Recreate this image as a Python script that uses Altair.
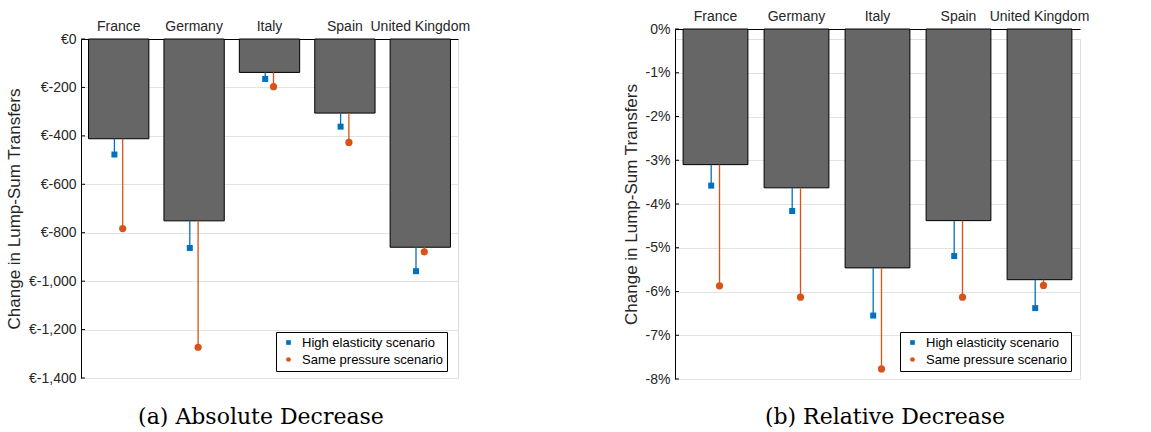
import altair as alt
import pandas as pd

countries = ["France", "Germany", "Italy", "Spain", "United Kingdom"]
scenarios = ["High elasticity scenario", "Same pressure scenario"]

abs_bar = [-412, -751, -138, -306, -860]
abs_high = [-477, -863, -165, -362, -959]
abs_same = [-783, -1273, -197, -427, -879]

rel_bar = [-3.10, -3.63, -5.46, -4.38, -5.73]
rel_high = [-3.58, -4.16, -6.55, -5.19, -6.38]
rel_same = [-5.87, -6.13, -7.77, -6.13, -5.86]

abs_ticks = [0, -200, -400, -600, -800, -1000, -1200, -1400]
rel_ticks = [0, -1, -2, -3, -4, -5, -6, -7, -8]

captions = ["(a) Absolute Decrease", "(b) Relative Decrease"]
y_title = "Change in Lump-Sum Transfers"

BLUE = "#0072BD"
ORANGE = "#D95319"
BAR = "#666666"
TXT = "#262626"


def panel(bar, high, same, ticks, label_expr, w, h, shift, caption, cap_x,
          cap_y, leg_x, leg_y, top_pad):
    df = pd.DataFrame({"country": countries, "bar": bar})
    hi = pd.DataFrame({"country": countries, "scenario": scenarios[0],
                       "value": high, "bar": bar})
    sp = pd.DataFrame({"country": countries, "scenario": scenarios[1],
                       "value": same, "bar": bar})
    tk = pd.DataFrame({"t": ticks})

    xenc = alt.X("country:N", sort=countries, title=None,
                 scale=alt.Scale(paddingInner=0.2, paddingOuter=0.1),
                 axis=alt.Axis(orient="top", labelAngle=0, ticks=False,
                               labelPadding=6, domainColor="black",
                               domainWidth=1, labelFontSize=14, offset=shift,
                               labelColor=TXT, labelOverlap=False,
                               labelFont="Liberation Sans"))
    yscale = alt.Scale(domain=[min(ticks), 0], nice=False,
                       range=[h, -shift])
    yax = alt.Axis(values=ticks, labelExpr=label_expr, grid=True,
                   gridColor="#e3e3e3", gridWidth=1, ticks=False,
                   domainColor="black", domainWidth=1,
                   title=y_title, titleFontSize=17, titleFontWeight="normal",
                   titleColor=TXT, titleFont="Liberation Sans",
                   labelFontSize=14, labelColor=TXT, labelPadding=5,
                   titlePadding=5, labelFont="Liberation Sans")

    leg = alt.Legend(title=None, orient="none", legendX=leg_x, legendY=leg_y,
                     fillColor="white", strokeColor="black", padding=4,
                     labelFontSize=13, labelFont="Liberation Sans",
                     labelColor="black", symbolSize=22, rowPadding=3,
                     labelOffset=7, symbolOffset=2)
    color = alt.Color("scenario:N",
                      scale=alt.Scale(domain=scenarios, range=[BLUE, ORANGE]),
                      legend=leg)
    shape = alt.Shape("scenario:N",
                      scale=alt.Scale(domain=scenarios,
                                      range=["square", "circle"]),
                      legend=leg)

    bars = alt.Chart(df).mark_bar(color=BAR, stroke="black",
                                  strokeWidth=1).encode(
        x=xenc, y=alt.Y("bar:Q", scale=yscale, axis=yax))

    tick_marks = alt.Chart(tk).mark_rule(color="black", strokeWidth=1).encode(
        y=alt.Y("t:Q", scale=yscale, axis=yax),
        x=alt.value(0), x2=alt.value(4))

    rule_hi = alt.Chart(hi).mark_rule(color=BLUE, strokeWidth=1.3,
                                      xOffset=-4.3).encode(
        x=xenc, y=alt.Y("bar:Q", scale=yscale, axis=yax), y2="value:Q")
    rule_sp = alt.Chart(sp).mark_rule(color=ORANGE, strokeWidth=1.3,
                                      xOffset=4).encode(
        x=xenc, y=alt.Y("bar:Q", scale=yscale, axis=yax), y2="value:Q")

    pt_hi = alt.Chart(hi).mark_point(filled=True, opacity=1, size=36,
                                     xOffset=-4.3).encode(
        x=xenc, y=alt.Y("value:Q", scale=yscale, axis=yax),
        color=color, shape=shape)
    pt_sp = alt.Chart(sp).mark_point(filled=True, opacity=1, size=52,
                                     xOffset=4).encode(
        x=xenc, y=alt.Y("value:Q", scale=yscale, axis=yax),
        color=color, shape=shape)

    cap = alt.Chart(pd.DataFrame({"c": [caption]})).mark_text(
        font="DejaVu Serif", fontSize=22, baseline="alphabetic",
        align="center", color="black").encode(
        text="c:N", x=alt.value(cap_x), y=alt.value(cap_y))

    spacer = alt.Chart(pd.DataFrame({"s": ["."]})).mark_text(
        color="white", baseline="top", fontSize=4, align="left").encode(
        text="s:N", x=alt.value(0), y=alt.value(-top_pad))

    return alt.layer(bars, tick_marks, rule_hi, rule_sp, pt_hi, pt_sp, cap,
                     spacer).properties(width=w, height=h)


left = panel(abs_bar, abs_high, abs_same, abs_ticks,
             "datum.value == 0 ? '€0' : '€-' + format(-datum.value, ',')",
             377, 339, 0, captions[0], 180, 385, 195, 293, 33)
right = panel(rel_bar, rel_high, rel_same, rel_ticks,
              "datum.value == 0 ? '0%' : '-' + format(-datum.value, 'd') + '%'",
              405, 340, 10, captions[1], 210, 385, 225, 293, 20)

chart = alt.concat(left, right, columns=2, spacing=150, align="none",
                   bounds="full").resolve_scale(
    x="independent", y="independent", color="independent",
    shape="independent").resolve_legend(
    color="independent", shape="independent").properties(
    padding={"left": 5, "top": 5, "right": 5, "bottom": 0}
).configure_view(stroke=None).configure(font="Liberation Sans")

chart.save("out.html", embed_options={"renderer": "svg", "actions": False})
